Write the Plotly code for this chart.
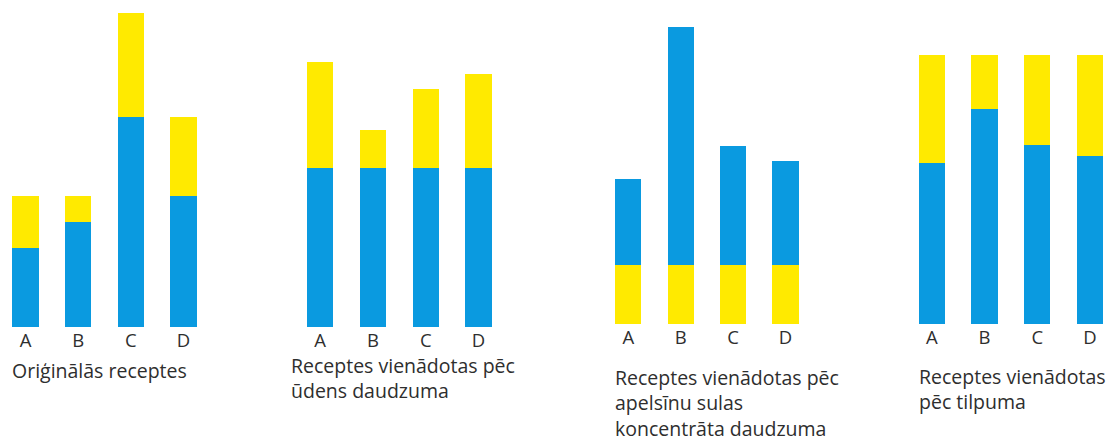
import plotly.graph_objects as go

# page has an 8px body margin, so the figure is drawn 8px smaller
W, H = 1110, 437

recipes = ['A', 'B', 'C', 'D']

# zils = ūdens, dzeltens = apelsīnu sulas koncentrāts
orig_water = [3, 4, 8, 5]
orig_conc = [2, 1, 4, 3]

eqw_water = [120, 120, 120, 120]
eqw_conc = [80, 29, 60, 71]

eqc_conc = [12, 12, 12, 12]
eqc_water = [17.5, 48.4, 24.2, 21.2]

eqv_water = [0.6, 0.8, 0.667, 0.625]
eqv_conc = [0.4, 0.2, 0.333, 0.375]

captions = [
    "Oriģinālās receptes",
    "Receptes vienādotas pēc<br>ūdens daudzuma",
    "Receptes vienādotas pēc<br>apelsīnu sulas<br>koncentrāta daudzuma",
    "Receptes vienādotas<br>pēc tilpuma",
]

BLUE = '#0a9ae0'
YELLOW = '#ffea00'
TEXT = '#2e2e2e'
FONT = 'Open Sans'

# (traces bottom->top, x px domain, bottom px, px per unit)
panels = [
    ([(orig_water, BLUE), (orig_conc, YELLOW)], (0, 201.8), 319, 26.2),
    ([(eqw_water, BLUE), (eqw_conc, YELLOW)], (285.8, 496.9), 319, 1.325),
    ([(eqc_conc, YELLOW), (eqc_water, BLUE)], (594.1, 803.7), 316, 4.92),
    ([(eqv_water, BLUE), (eqv_conc, YELLOW)], (897.4, 1108.4), 316, 269),
]
xr_left = [-0.332, -0.5, -0.5, -0.5]

fig = go.Figure()
layout = {}
for i, (series, (x0, x1), bottom, scale) in enumerate(panels):
    n = '' if i == 0 else str(i + 1)
    for vals, col in series:
        fig.add_trace(go.Bar(x=recipes, y=vals, marker_color=col, marker_line_width=0,
                             width=0.5, xaxis='x' + n, yaxis='y' + n, showlegend=False))
    layout['xaxis' + n] = dict(domain=[x0 / W, x1 / W], range=[xr_left[i], 3.5], anchor='y' + n,
                               showgrid=False, zeroline=False, showline=False, ticks='',
                               automargin=False,
                               tickfont=dict(size=18.5, color=TEXT, family=FONT), fixedrange=True)
    layout['yaxis' + n] = dict(domain=[(H - bottom) / H, 1], range=[0, bottom / scale], anchor='x' + n,
                               visible=False, automargin=False, fixedrange=True)

fig.update_layout(**layout)

cap_pos = [(2, 347), (281, 342), (605, 354), (909, 353)]
for (cx, cy), txt in zip(cap_pos, captions):
    fig.add_annotation(text=txt, x=cx / W, y=1 - cy / H, xref='paper', yref='paper',
                       xanchor='left', yanchor='top', align='left', showarrow=False,
                       font=dict(size=19.5, color=TEXT, family=FONT))

fig.update_layout(width=W, height=H, margin=dict(l=0, r=0, t=0, b=0),
                  barmode='stack', paper_bgcolor='white', plot_bgcolor='white')

fig.write_html("out.html")
